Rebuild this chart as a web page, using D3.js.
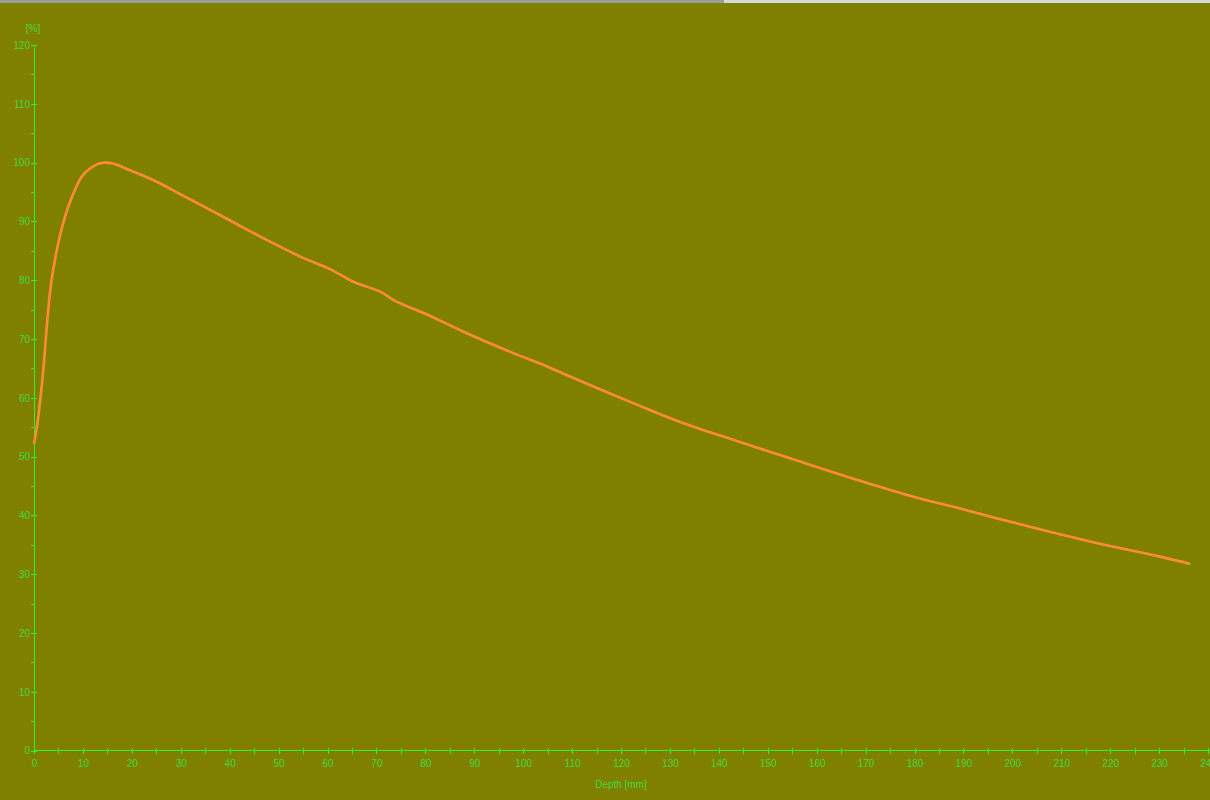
<!DOCTYPE html>
<html>
<head>
<meta charset="utf-8">
<script src="https://cdn.jsdelivr.net/npm/d3@7"></script>
<style>
html,body{margin:0;padding:0;background:#808000;}
svg{display:block;}
</style>
</head>
<body>
<svg id="chart" width="1210" height="800"></svg>
<script>
const depth = [0,0.6,1.9,2.6,3.4,4.4,5.7,7.4,9.75,11.45,13.5,15.9,19.6,25.1,29.85,33.9,40,48.25,55,60.5,65.3,70.75,74.15,80,87.8,98,105,111.6,122.5,132.1,144.3,155.2,166.2,179.8,189.3,195.5,209.1,220,230.2,236.4];
const dose  = [52.2,55,64.7,72,78.8,84.0,88.9,93.4,97.6,99.0,99.9,99.9,98.7,96.75,94.65,92.9,90.2,86.55,83.8,81.9,79.75,78.05,76.35,74.3,71.25,67.6,65.3,62.9,59.1,55.9,52.5,49.55,46.6,43.2,41.2,39.8,36.95,34.8,33.0,31.75];
const xMajor = d3.range(0, 241, 10);
const xMinor = d3.range(5, 241, 10);
const yMajor = d3.range(0, 121, 10);
const yMinor = d3.range(5, 120, 10);
const xTitle = "Depth [mm]";
const yTitle = "[%]";

const svg = d3.select("#chart");
const W = 1210, H = 800;
const axisColor = "#33f033", textColor = "#42d842";
const font = "'Liberation Sans', Arial, sans-serif";

svg.append("rect").attr("width", W).attr("height", H).attr("fill", "#808000");
// top gray strip
svg.append("rect").attr("x",0).attr("y",0).attr("width",724).attr("height",3).attr("fill","#9c9c9c");
svg.append("rect").attr("x",724).attr("y",0).attr("width",W-724).attr("height",3).attr("fill","#d8d8d8");

const x = d3.scaleLinear().domain([0, 240]).range([34, 1208]);
const y = d3.scaleLinear().domain([0, 120]).range([750.7, 45]);

// axis lines
svg.append("line").attr("x1", x(0)).attr("x2", W).attr("y1", y(0)).attr("y2", y(0))
  .attr("stroke", axisColor).attr("stroke-width", 1).attr("shape-rendering","crispEdges");
svg.append("line").attr("x1", x(0)).attr("x2", x(0)).attr("y1", y(0)).attr("y2", y(120))
  .attr("stroke", axisColor).attr("stroke-width", 1).attr("shape-rendering","crispEdges");

function styleAxis(g){
  g.select(".domain").remove();
  g.selectAll(".tick line").attr("stroke", axisColor).attr("shape-rendering","crispEdges");
  g.selectAll(".tick text").attr("fill", textColor).attr("font-family", font).attr("font-size", 10);
}
const gx = svg.append("g").attr("transform", `translate(0,${y(0)})`)
  .call(d3.axisBottom(x).tickValues(xMajor).tickSize(3).tickPadding(6).tickFormat(d3.format("d")));
styleAxis(gx);
gx.selectAll(".tick line").attr("y1", -3).attr("y2", 3);
gx.selectAll(".tick text").attr("y", 9);

const gxm = svg.append("g").attr("transform", `translate(0,${y(0)})`)
  .call(d3.axisBottom(x).tickValues(xMinor).tickSize(3).tickFormat(""));
styleAxis(gxm);
gxm.selectAll(".tick line").attr("y1", -3).attr("y2", 3);

const gy = svg.append("g").attr("transform", `translate(${x(0)},0)`)
  .call(d3.axisLeft(y).tickValues(yMajor).tickSize(3).tickPadding(1).tickFormat(d3.format("d")));
styleAxis(gy);
gy.selectAll(".tick line").attr("x1", -3).attr("x2", 3);

const gym = svg.append("g").attr("transform", `translate(${x(0)},0)`)
  .call(d3.axisLeft(y).tickValues(yMinor).tickSize(3).tickFormat(""));
styleAxis(gym);
gym.selectAll(".tick line").attr("x1", -3).attr("x2", 1);

// titles
svg.append("text").attr("x", (x(0)+x(240))/2).attr("y", 788).attr("text-anchor","middle")
  .attr("fill", textColor).attr("font-family", font).attr("font-size", 10).text(xTitle);
svg.append("text").attr("x", x(0)-1).attr("y", 32).attr("text-anchor","middle")
  .attr("fill", textColor).attr("font-family", font).attr("font-size", 10).text(yTitle);

// curve
const pts = depth.map((d,i)=>[d, dose[i]]);
const line = d3.line().x(d=>x(d[0])).y(d=>y(d[1])).curve(d3.curveCatmullRom.alpha(0.5));
svg.append("path").datum(pts).attr("d", line).attr("fill","none")
  .attr("stroke","#ff8a3a").attr("stroke-width", 2.6).attr("stroke-linejoin","round");
</script>
</body>
</html>
